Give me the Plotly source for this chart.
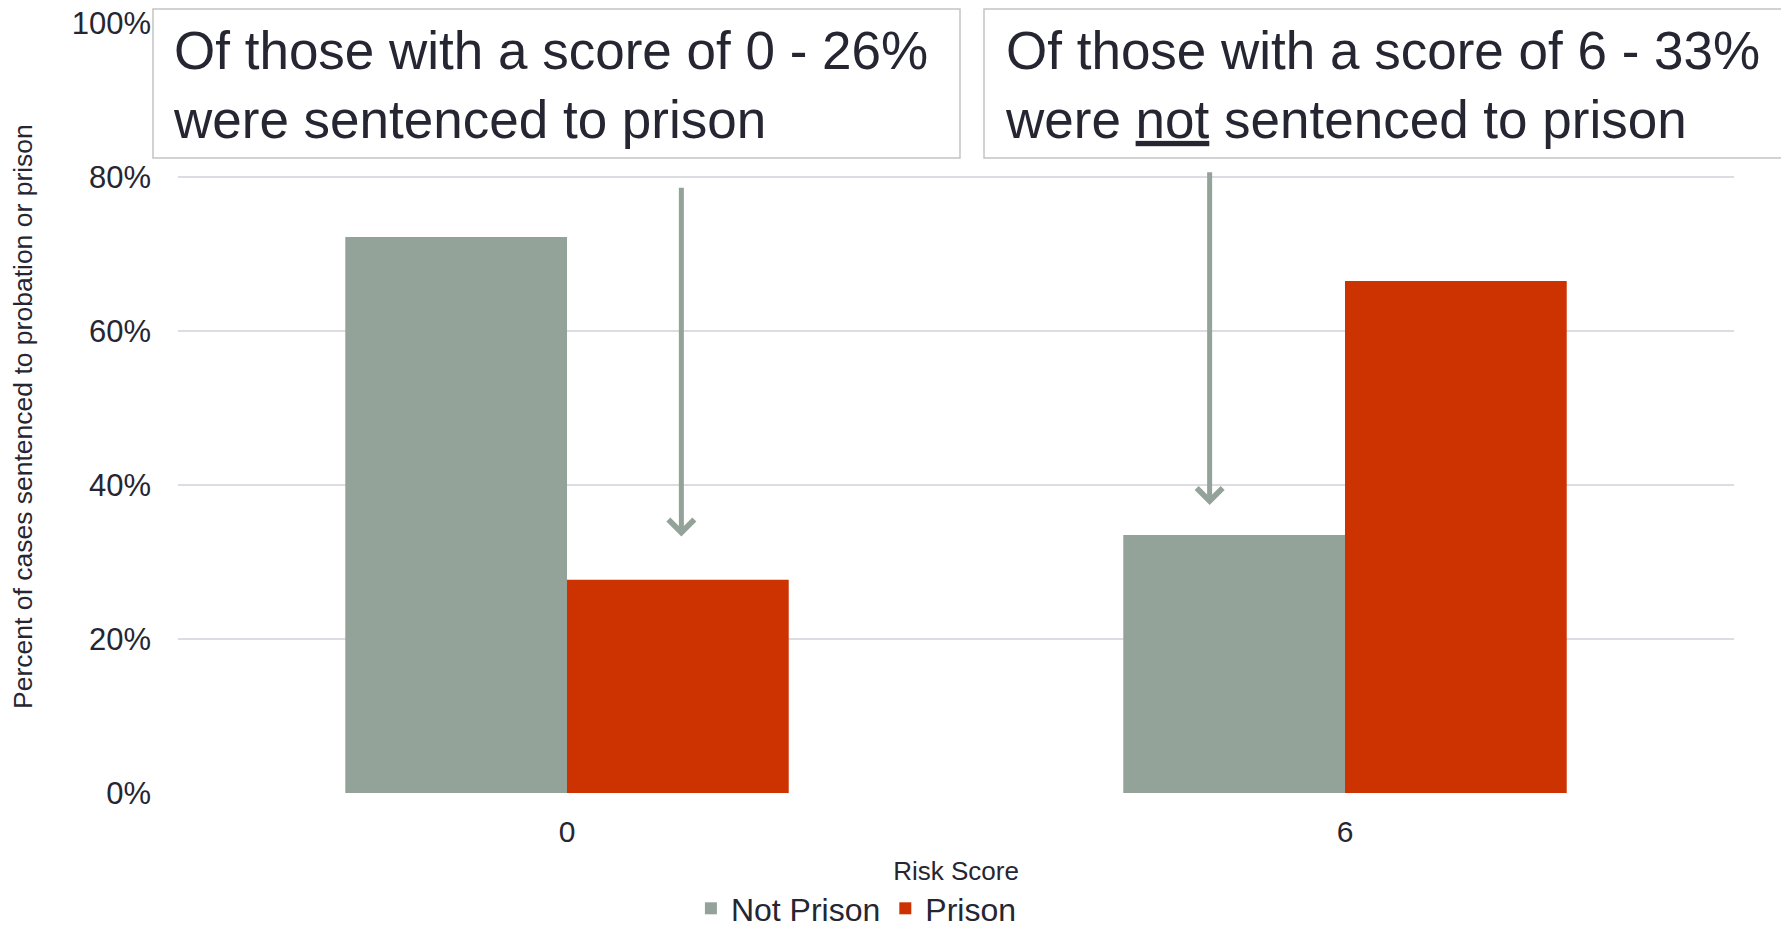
import plotly.graph_objects as go

# ---- data ----
risk_scores = ["0", "6"]
not_prison = [72.2, 33.5]
prison = [27.7, 66.5]
series_names = ["Not Prison", "Prison"]
y_ticks = [0, 20, 40, 60, 80, 100]
y_tick_labels = ["0%", "20%", "40%", "60%", "80%", "100%"]
y_title = "Percent of cases sentenced to probation or prison"
x_title = "Risk Score"
box_left_lines = ["Of those with a score of 0 - 26%", "were sentenced to prison"]
box_right_lines = ["Of those with a score of 6 - 33%", "were <u>not</u> sentenced to prison"]

GREY = "#94a399"
RED = "#cc3300"
TXT = "#262633"
FONT = "Liberation Sans, Arial, sans-serif"

W, H = 1781, 927
ML, MR, MT, MB = 178, 47, 23, 134
PW = W - ML - MR
PH = H - MT - MB


def px_x(p):
    return (p - ML) / PW


def px_y(p):
    return (H - MB - p) / PH


fig = go.Figure()
fig.add_trace(go.Bar(x=risk_scores, y=not_prison, name=series_names[0],
                     marker=dict(color=GREY, line=dict(width=0))))
fig.add_trace(go.Bar(x=risk_scores, y=prison, name=series_names[1],
                     marker=dict(color=RED, line=dict(width=0))))

shapes = []
annotations = []
# boxes
for x0, x1 in [(153, 960), (984, 1792)]:
    shapes.append(dict(type="rect", xref="paper", yref="paper",
                       x0=px_x(x0), x1=px_x(x1), y0=px_y(158), y1=px_y(9),
                       line=dict(color="#c4c4c4", width=1.5), fillcolor="white",
                       layer="above"))
for xt, lines in [(171, box_left_lines), (1003, box_right_lines)]:
    annotations.append(dict(xref="paper", yref="paper", x=px_x(xt), y=px_y(85),
                            xanchor="left", yanchor="middle", align="left",
                            text="<br>".join(lines), showarrow=False,
                            font=dict(size=53, color=TXT, family=FONT)))
# arrows
for xa, ytip, ytail in [(0.147, 33.3, 78.8), (0.826, 37.4, 80.8)]:
    annotations.append(dict(xref="x", yref="y", axref="x", ayref="y",
                            x=xa, y=ytip, ax=xa, ay=ytail, text="",
                            showarrow=True, arrowhead=4, arrowsize=1.0,
                            arrowwidth=5, arrowcolor=GREY, standoff=0))
# y-axis title
annotations.append(dict(xref="paper", yref="paper", x=px_x(23), y=px_y(417),
                        xanchor="center", yanchor="middle", textangle=-90,
                        text=y_title, showarrow=False,
                        font=dict(size=26.5, color=TXT, family=FONT)))

fig.update_layout(
    width=W, height=H,
    margin=dict(l=ML, r=MR, t=MT, b=MB, autoexpand=False),
    paper_bgcolor="white", plot_bgcolor="white",
    barmode="group", bargap=0.43, bargroupgap=0,
    font=dict(family=FONT, color=TXT),
    showlegend=True,
    legend=dict(orientation="h", x=0.436, xanchor="center", y=-0.150, yanchor="middle",
                font=dict(size=32, color=TXT, family=FONT), itemwidth=30,
                bgcolor="rgba(0,0,0,0)"),
    shapes=shapes,
    annotations=annotations,
)
fig.update_xaxes(type="category", showgrid=False, zeroline=False, showline=False,
                 ticks="", tickfont=dict(size=30, color=TXT), ticklabelstandoff=18,
                 title=dict(text=x_title, font=dict(size=26, color=TXT), standoff=14))
fig.update_yaxes(range=[0, 100], tickmode="array", tickvals=y_ticks, ticktext=y_tick_labels,
                 showgrid=True, gridcolor="#dcdce2", gridwidth=2, zeroline=False,
                 showline=False, ticks="", tickfont=dict(size=31, color=TXT),
                 ticklabelstandoff=26)

fig.write_html("out.html", config={"displayModeBar": False},
               post_script="document.body.style.margin='0';document.body.style.overflow='hidden';")
